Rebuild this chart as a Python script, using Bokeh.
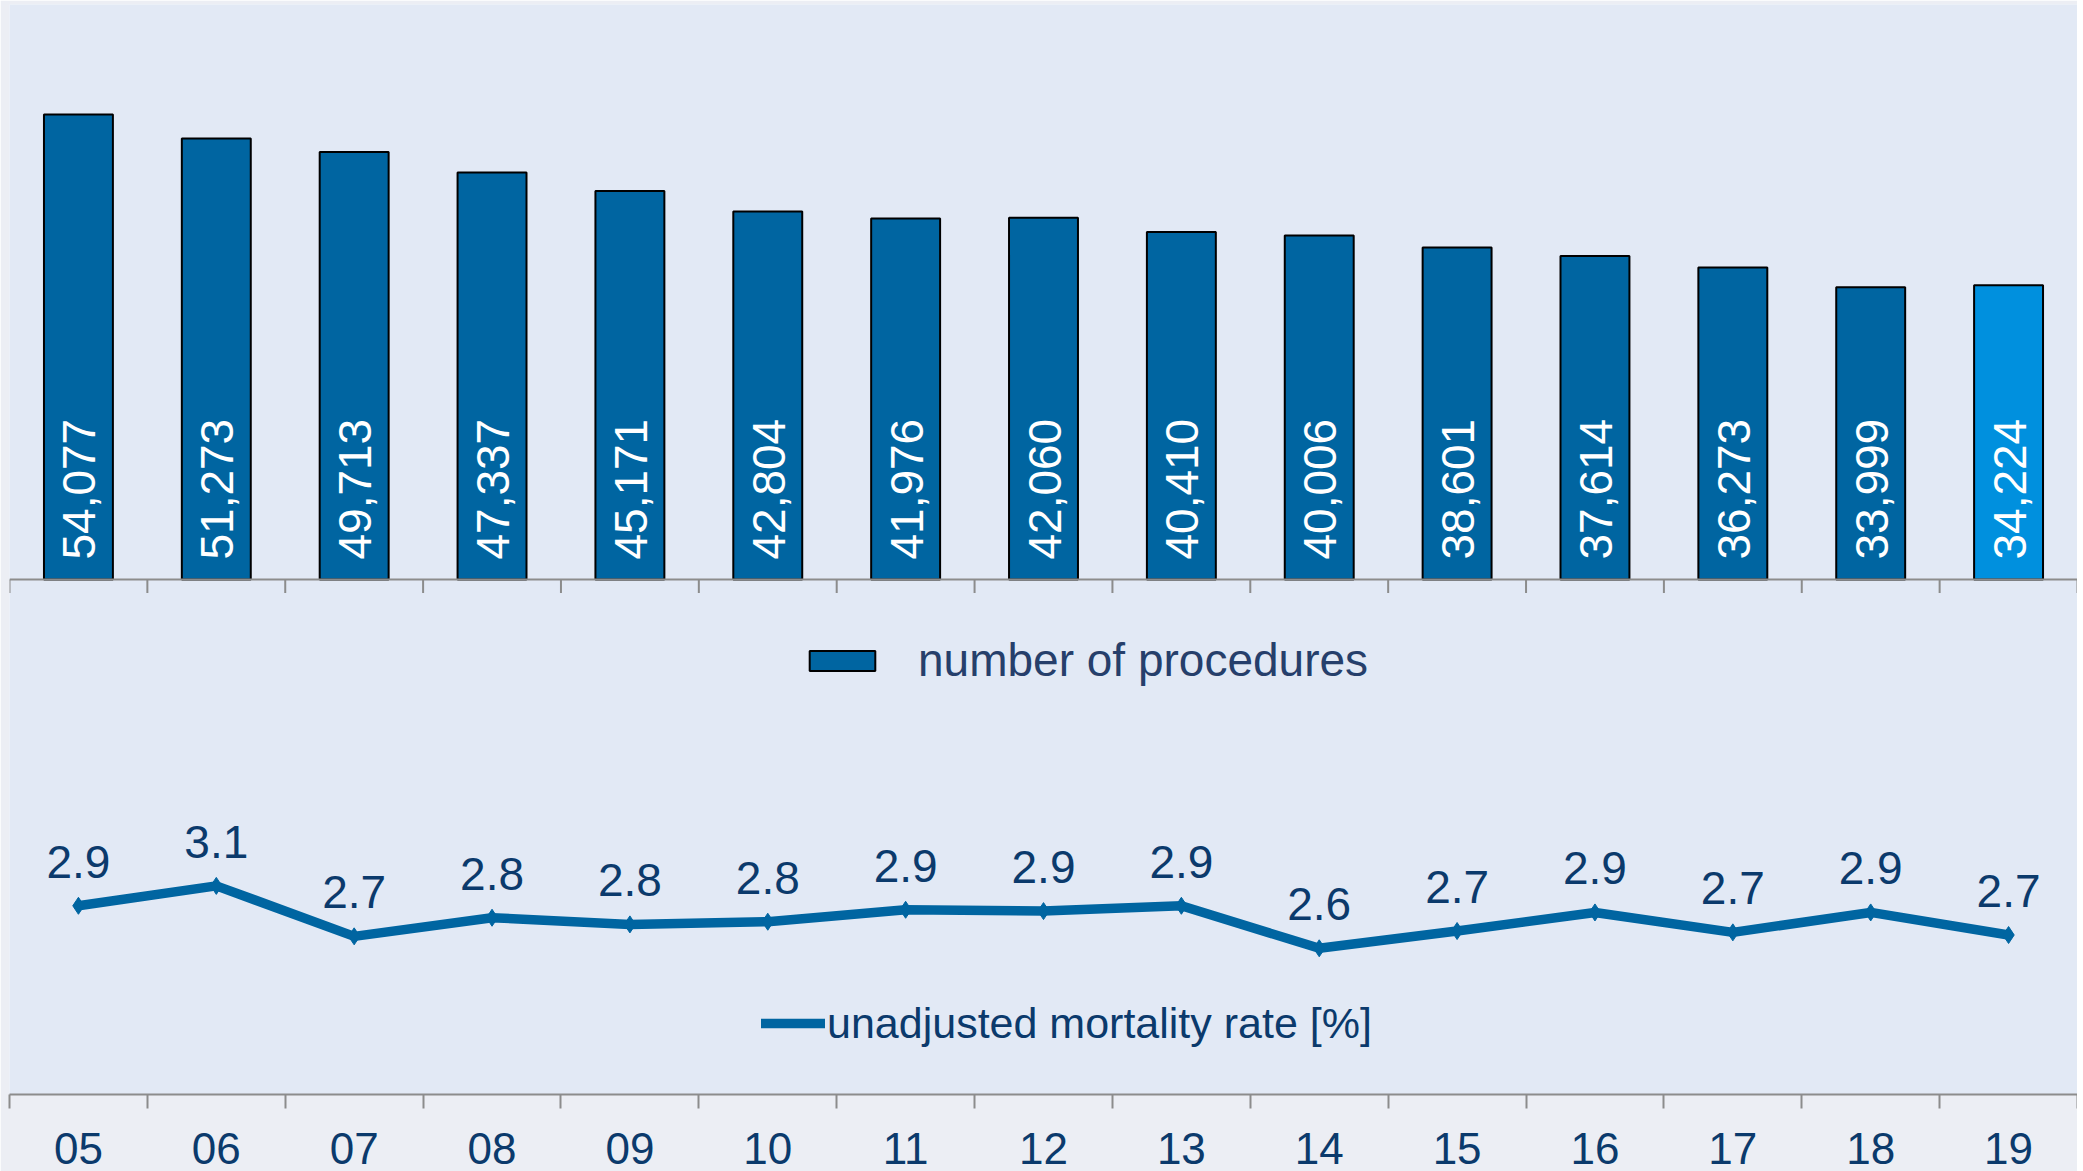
import math
from bokeh.plotting import figure
from bokeh.models import ColumnDataSource, Range1d, FixedTicker, Span, Legend, LegendItem
from bokeh.core.properties import value
from bokeh.embed import file_html
from bokeh.resources import INLINE

# ---- data ----
years = ["05", "06", "07", "08", "09", "10", "11", "12", "13", "14", "15", "16", "17", "18", "19"]
procedures = [54077, 51273, 49713, 47337, 45171, 42804, 41976, 42060, 40410, 40006, 38601, 37614, 36273, 33999, 34224]
mortality = [2.92, 3.07, 2.69, 2.83, 2.78, 2.80, 2.89, 2.88, 2.92, 2.60, 2.73, 2.87, 2.72, 2.87, 2.70]
highlight_year = "19"
bar_legend = "number of procedures"
line_legend = "unadjusted mortality rate [%]"

# ---- style ----
FONT = "Liberation Sans"
BAR = "#0065A1"
BAR_HI = "#0090DE"
PLOT_BG = "#E2E9F5"
OUTER_BG = "#ECEEF4"
AXIS = "#8C8C8C"
NAVY = "#0B3A6C"
LEG1 = "#263F6B"

n = len(years)
xc = list(range(n))
bounds = [i - 0.5 for i in range(n + 1)]

BAR_RANGE = (-59891, 66868)
RATE_RANGE = (1.499, 9.707)
FRAME_H = 1090

p = figure(width=2077, height=1171,
           x_range=Range1d(-0.5, n - 0.5), y_range=Range1d(*BAR_RANGE),
           output_backend="svg", toolbar_location=None, y_axis_location=None,
           min_border_left=9, min_border_right=0, min_border_top=4, min_border_bottom=77)
p.extra_y_ranges = {"rate": Range1d(*RATE_RANGE)}
p.background_fill_color = PLOT_BG
p.border_fill_color = OUTER_BG
p.outline_line_color = None
p.grid.visible = False

xa = p.xaxis[0]
xa.ticker = FixedTicker(ticks=xc, minor_ticks=bounds)
xa.major_label_overrides = {i: y for i, y in zip(xc, years)}
xa.major_tick_in = 0
xa.major_tick_out = 0
xa.minor_tick_in = 0
xa.minor_tick_out = 14
xa.minor_tick_line_color = AXIS
xa.minor_tick_line_width = 2
xa.axis_line_color = AXIS
xa.axis_line_width = 2
xa.major_label_text_font = FONT
xa.major_label_text_font_size = "44px"
xa.major_label_text_color = NAVY
xa.major_label_standoff = 24

# ---- bars ----
src = ColumnDataSource(dict(
    x=xc, n=procedures,
    lab=[f"{v:,}" for v in procedures],
    color=[BAR_HI if y == highlight_year else BAR for y in years],
))
bars = p.vbar(x="x", top="n", bottom=0, width=0.5, fill_color="color",
              line_color="black", line_width=2, source=src)
p.text(x="x", y=0, text="lab", source=src, angle=math.pi / 2,
       text_align="left", text_baseline="middle", y_offset=-20, x_offset=1,
       text_color="white", text_font=value(FONT), text_font_size="46px")

# middle axis (bar baseline) with ticks at category boundaries
p.add_layout(Span(location=0, dimension="width", line_color=AXIS, line_width=2))
tick_len = 13.5 * (BAR_RANGE[1] - BAR_RANGE[0]) / FRAME_H
p.segment(x0=bounds, y0=0, x1=bounds, y1=-tick_len, line_color=AXIS, line_width=2)

# ---- line ----
lsrc = ColumnDataSource(dict(x=xc, r=mortality, lab=[f"{v:.1f}" for v in mortality]))
line = p.line("x", "r", source=lsrc, y_range_name="rate", line_color=BAR,
              line_width=9.5, line_join="round", line_cap="round")
p.scatter("x", "r", source=lsrc, y_range_name="rate", marker="diamond", size=17,
          fill_color=BAR, line_color=BAR)
p.text("x", "r", text="lab", source=lsrc, y_range_name="rate",
       text_align="center", text_baseline="alphabetic", y_offset=-44,
       text_color=NAVY, text_font=value(FONT), text_font_size="46px")

# ---- legends ----
leg1 = Legend(items=[LegendItem(label=bar_legend, renderers=[bars], index=0)],
              location=(792, 407), padding=0, margin=0, spacing=0,
              glyph_width=82, glyph_height=25, label_standoff=35,
              background_fill_alpha=0, border_line_alpha=0,
              label_text_font=FONT, label_text_font_size="46px", label_text_color=LEG1)
leg2 = Legend(items=[LegendItem(label=line_legend, renderers=[line])],
              location=(752, 43), padding=0, margin=0, spacing=0,
              glyph_width=64, glyph_height=56, label_standoff=2,
              background_fill_alpha=0, border_line_alpha=0,
              label_text_font=FONT, label_text_font_size="43px", label_text_color=NAVY)
p.add_layout(leg1, "center")
p.add_layout(leg2, "center")

open("out.html", "w").write(file_html(p, INLINE))
